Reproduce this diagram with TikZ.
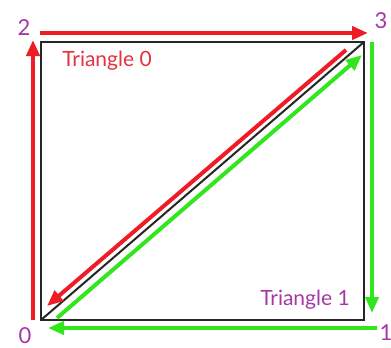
\documentclass[tikz,border=0pt]{standalone}
\usepackage{fontspec}
\setmainfont{Lato}
\usetikzlibrary{arrows.meta, calc}
\definecolor{edgered}{RGB}{238,28,36}
\definecolor{edgegreen}{RGB}{50,230,30}
\definecolor{labelpurple}{RGB}{165,55,165}
\definecolor{textred}{RGB}{228,50,62}

\begin{document}
\begin{tikzpicture}[
    x=1pt, y=-1pt,
    quad/.style={draw=black!85, line width=2pt},
    redline/.style={draw=edgered, line width=4pt, -{Triangle[length=16pt,width=13pt]}},
    greenline/.style={draw=edgegreen, line width=4pt, -{Triangle[length=16pt,width=13pt]}},
    vlabel/.style={text=labelpurple, font=\fontsize{22}{22}\selectfont, inner sep=0pt},
    trilabel/.style={font=\fontsize{21}{21}\selectfont, inner sep=0pt}
]
\useasboundingbox (0,0) rectangle (391,348);

\coordinate (v0) at (41,320);
\coordinate (v1) at (364,320);
\coordinate (v2) at (41,42);
\coordinate (v3) at (364,42);

\draw [quad] (v0) rectangle (v3);
\draw [quad] (v0) -- (v3);

\node [vlabel] (n0) at (25,336) {0};
\node [vlabel] (n1) at (386,333) {1};
\node [vlabel] (n2) at (24,28) {2};
\node [vlabel] (n3) at (381,21) {3};

\node [trilabel, text=textred] (tri0) at (107,61) {Triangle 0};
\node [trilabel, text=labelpurple] (tri1) at (305,300) {Triangle 1};

\draw [redline] ($(v0)+(-8,0)$) -- ($(v2)+(-8,-2)$);
\draw [redline] ($(v2)+(-1,-9)$) -- ($(v3)+(4,-9)$);
\draw [redline] ($(v3)+(-18,8)$) -- ($(v0)+(6,-14)$);

\draw [greenline] ($(v0)+(16,-2)$) -- ($(v3)+(-2,13)$);
\draw [greenline] ($(v3)+(8,0)$) -- ($(v1)+(8,-7)$);
\draw [greenline] ($(v1)+(13,8)$) -- ($(v0)+(7,8)$);

\end{tikzpicture}
\end{document}
